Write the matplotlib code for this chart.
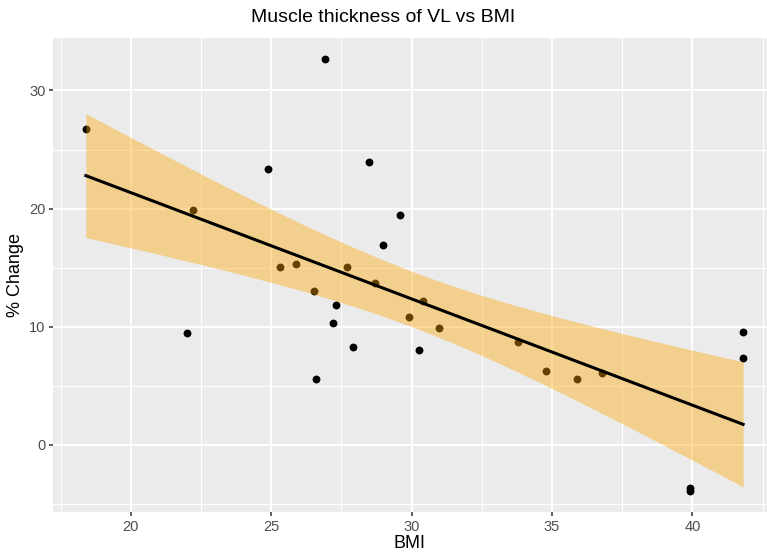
import numpy as np
import matplotlib
matplotlib.use("Agg")
import matplotlib.pyplot as plt

# values
bmi = [18.40, 22.20, 22.00, 24.90, 25.30, 25.90, 26.51, 26.59, 26.90, 27.20,
       27.30, 27.70, 27.91, 28.50, 28.70, 28.99, 29.59, 29.90, 30.27, 30.40,
       30.99, 33.80, 34.80, 35.91, 36.80, 39.91, 39.91, 41.81, 41.81]
pct_change = [26.73, 19.88, 9.50, 23.38, 15.10, 15.31, 13.00, 5.58, 32.66, 10.34,
              11.86, 15.09, 8.27, 23.94, 13.68, 16.90, 19.46, 10.83, 8.04, 12.18,
              9.92, 8.69, 6.24, 5.58, 6.09, -3.61, -3.87, 9.59, 7.34]
x_ticks = [20, 25, 30, 35, 40]
y_ticks = [0, 10, 20, 30]

plt.rcParams['font.family'] = ['Liberation Sans', 'DejaVu Sans']

x = np.array(bmi)
y = np.array(pct_change)

# linear fit with 95% confidence band (like geom_smooth(method = "lm"))
n = len(x)
slope, intercept = np.polyfit(x, y, 1)
resid = y - (slope * x + intercept)
s = np.sqrt(np.sum(resid ** 2) / (n - 2))
xs = np.linspace(x.min(), x.max(), 100)
fit = slope * xs + intercept
se = s * np.sqrt(1.0 / n + (xs - x.mean()) ** 2 / np.sum((x - x.mean()) ** 2))
t_crit = 2.0518  # t(0.975, df=27)
lower = fit - t_crit * se
upper = fit + t_crit * se

W, H = 767, 553
fig = plt.figure(figsize=(W / 100, H / 100), dpi=100)
ax = fig.add_axes([53 / W, (H - 512) / H, (767 - 53) / W, (512 - 37.7) / H])

ax.set_facecolor('#EBEBEB')
for sp in ax.spines.values():
    sp.set_visible(False)

ax.set_xlim(17.23, 42.66)
ax.set_ylim(-5.67, 34.46)
ax.set_xticks(x_ticks)
ax.set_yticks(y_ticks)
ax.set_xticks([17.5, 22.5, 27.5, 32.5, 37.5, 42.5], minor=True)
ax.set_yticks([-5, 5, 15, 25], minor=True)
ax.grid(which='major', color='white', linewidth=1.4)
ax.grid(which='minor', color='white', linewidth=0.7)
ax.set_axisbelow(True)
ax.tick_params(which='major', length=3, width=1.1, color='#333333',
               labelcolor='#4D4D4D', labelsize=10.5, pad=2.5)
ax.tick_params(which='minor', length=0)

ax.scatter(x, y, s=32, color='black', zorder=3, linewidths=0)
ax.fill_between(xs, lower, upper, color='orange', alpha=0.4, linewidth=0, zorder=4)
ax.plot(xs, fit, color='black', linewidth=2.2, zorder=5)

# axis titles and title placed in figure pixels, as in the reference
fig.text(410 / W, 1 - 544 / H, 'BMI', ha='center', va='center', fontsize=13)
fig.text(15 / W, 1 - 275 / H, '% Change', ha='center', va='center',
         rotation=90, fontsize=13)
fig.text(383 / W, 1 - 18 / H, 'Muscle thickness of VL vs BMI',
         ha='center', va='center', fontsize=14)

fig.savefig('out.png', dpi=100)
